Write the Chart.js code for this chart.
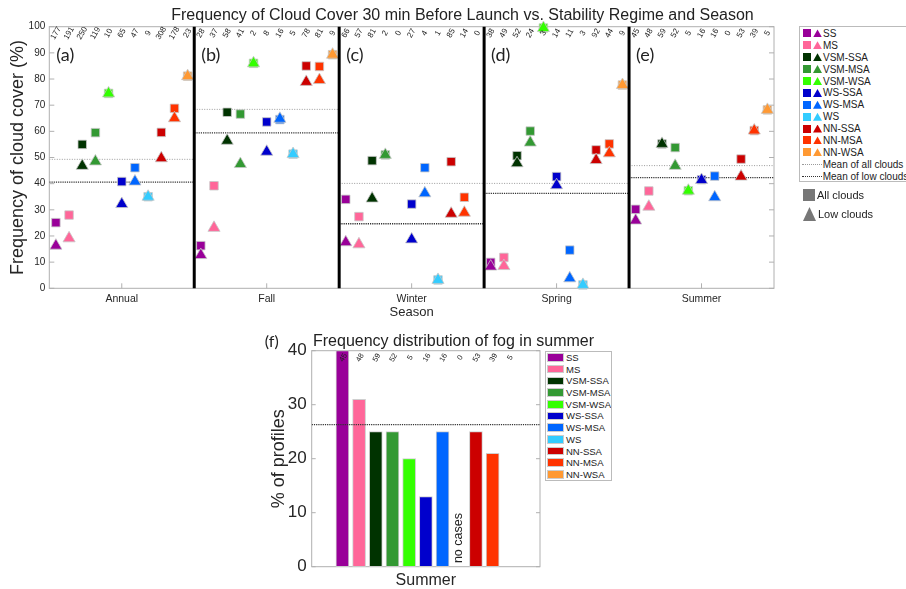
<!DOCTYPE html>
<html>
<head>
<meta charset="utf-8">
<script src="https://cdn.jsdelivr.net/npm/chart.js@4.4.0/dist/chart.umd.min.js"></script>
<style>
    html, body { margin: 0; padding: 0; background: #fff; overflow: hidden; width: 906px; height: 589px; }
    body { position: relative; font-family: 'Liberation Sans', Arial, Helvetica, sans-serif; color: #222; }
    #top-wrap { position: absolute; left: 0; top: 0; }
    #bottom-wrap { position: absolute; left: 240px; top: 330px; }
    .legend { position: absolute; background: #fff; border: 1px solid #bbb; box-sizing: border-box; overflow: hidden; }
    #legend-top { left: 799px; top: 26px; width: 120px; height: 156px; padding-top: 0.5px; }
    #legend-bottom { left: 545px; top: 350.7px; width: 67px; height: 130.3px; padding-top: 0px; }
    .lrow { display: flex; align-items: center; white-space: nowrap; }
    #legend-top .lrow { height: 11.9px; font-size: 10px; }
    #legend-bottom .lrow { height: 11.7px; font-size: 9.5px; }
    .sq { width: 8px; height: 8px; margin-left: 3px; }
    .tri { width: 9px; height: 8px; margin-left: 2px; clip-path: polygon(50% 0, 100% 100%, 0 100%); }
    .ltxt { margin-left: 1px; }
    .mline { width: 20px; height: 0; margin-left: 1.7px; }
    .bar-key { width: 15px; height: 6.5px; margin-left: 1px; border: 0.5px solid #ccc; }
    .marker-key { position: absolute; left: 803px; font-size: 11px; display: flex; align-items: center; }
    .marker-key span.shape { background: #777; margin-right: 2px; }
</style>
</head>
<body>
<div id="top-wrap"><canvas id="top-chart" width="925" height="330"></canvas></div>
<div id="bottom-wrap"><canvas id="bottom-chart" width="427" height="259"></canvas></div>
<div id="legend-top" class="legend"></div>
<div class="marker-key" style="top:189px;"><span class="shape" style="width:12px;height:12px;"></span>All clouds</div>
<div class="marker-key" style="top:207px;"><span class="shape" style="width:13px;height:14px;clip-path:polygon(50% 0,100% 100%,0 100%);"></span>Low clouds</div>
<div id="legend-bottom" class="legend"></div>

<script>
// Categories
const seasons = ['Annual', 'Fall', 'Winter', 'Spring', 'Summer'];
const regimes = ['SS', 'MS', 'VSM-SSA', 'VSM-MSA', 'VSM-WSA', 'WS-SSA', 'WS-MSA', 'WS', 'NN-SSA', 'NN-MSA', 'NN-WSA'];
const regimeColors = ['#990099', '#ff6699', '#003300', '#339933', '#33ff00', '#0000cc',
                      '#0066ff', '#33ccff', '#cc0000', '#ff3300', '#ff9933'];

// Frequency of all clouds (%), one row per regime, values per season
const allClouds = [
    [25.1, 16.3, 34.0,  9.9, 30.2],  // SS
    [28.0, 39.2, 27.4, 11.8, 37.2],  // MS
    [55.0, 67.3, 48.8, 50.7, 55.2],  // VSM-SSA
    [59.5, 66.6, 51.0, 60.1, 53.8],  // VSM-MSA
    [74.5, 86.0, null, 99.5, 37.3],  // VSM-WSA
    [40.8, 63.6, 32.2, 42.7, 41.5],  // WS-SSA
    [46.1, 64.5, 46.1, 14.6, 42.9],  // WS-MSA
    [35.0, 51.3,  3.2,  1.3, null],  // WS
    [59.6, 85.0, 48.4, 52.9, 49.4],  // NN-SSA
    [68.8, 84.8, 34.8, 55.2, 60.3],  // NN-MSA
    [81.1, 89.3, null, 77.7, 68.2]   // NN-WSA
];
// Frequency of low clouds (%)
const lowClouds = [
    [16.3, 12.7, 17.6,  8.3, 25.9],
    [19.1, 23.1, 16.8,  8.5, 31.2],
    [46.8, 56.4, 34.3, 47.8, 55.2],
    [48.5, 47.5, 51.0, 55.7, 46.8],
    [74.5, 86.0, null, 99.5, 37.3],
    [32.2, 52.2, 18.7, 39.4, 41.4],
    [40.8, 64.8, 36.3,  3.8, 34.8],
    [35.0, 51.3,  3.2,  1.3, null],
    [49.7, 78.9, 28.5, 49.0, 42.7],
    [65.0, 79.6, 28.9, 51.6, 60.3],
    [81.1, 89.3, null, 77.7, 68.2]
];
// Number of profiles, one row per season
const profileCounts = [
    [177, 191, 250, 119, 10, 65, 47, 9, 308, 178, 23],
    [28, 37, 58, 41, 2, 8, 16, 5, 78, 81, 9],
    [66, 57, 81, 2, 0, 27, 4, 1, 85, 14, 0],
    [38, 49, 52, 24, 3, 14, 11, 3, 92, 44, 9],
    [45, 48, 59, 52, 5, 16, 16, 0, 53, 39, 5]
];
const meanAllClouds = [49.3, 68.4, 40.1, 40.1, 46.9];
const meanLowClouds = [40.6, 59.4, 24.7, 36.3, 42.3];
const panelLetters = ['(a)', '(b)', '(c)', '(d)', '(e)'];

// Fog in summer
const fogPercent = [40, 31, 25, 25, 20, 13, 25, null, 25, 21, 0];
const fogCounts = [45, 48, 59, 52, 5, 16, 16, 0, 53, 39, 5];
const fogMean = 26.3;

const FONT = "'Liberation Sans', Arial, Helvetica, sans-serif";
Chart.defaults.font.family = FONT;
Chart.defaults.color = '#262626';

// x position of regime i inside season panel k
function slotX(k, i) {
    return k + 1 + (i - 5) / 11;
}

// Build top chart datasets
const topDatasets = [];
seasons.slice(1).forEach((s, k) => {
    topDatasets.push({
        data: [{x: k + 1.5, y: 0}, {x: k + 1.5, y: 100}],
        showLine: true, borderColor: '#000', borderWidth: 3, pointRadius: 0, order: 0, clip: false
    });
});
seasons.forEach((s, k) => {
    topDatasets.push({
        data: [{x: k + 0.5, y: meanAllClouds[k]}, {x: k + 1.5, y: meanAllClouds[k]}],
        showLine: true, borderColor: '#9a9a9a', borderWidth: 1, borderDash: [1, 1.5], pointRadius: 0, order: 3
    });
    topDatasets.push({
        data: [{x: k + 0.5, y: meanLowClouds[k]}, {x: k + 1.5, y: meanLowClouds[k]}],
        showLine: true, borderColor: '#333', borderWidth: 1.4, borderDash: [1.2, 1], pointRadius: 0, order: 3
    });
});
regimes.forEach((name, i) => {
    topDatasets.push({
        label: name + ' all',
        data: seasons.map((s, k) => ({x: slotX(k, i), y: allClouds[i][k]})).filter(p => p.y !== null),
        pointStyle: 'rect', pointRadius: 6, backgroundColor: regimeColors[i],
        borderColor: '#c8c8c8', borderWidth: 0.8, order: 2, clip: false
    });
    topDatasets.push({
        label: name + ' low',
        data: seasons.map((s, k) => ({x: slotX(k, i), y: lowClouds[i][k]})).filter(p => p.y !== null),
        pointStyle: 'triangle', pointRadius: 7, backgroundColor: regimeColors[i],
        borderColor: '#c8c8c8', borderWidth: 0.8, order: 1, clip: false
    });
});

// Box, inner ticks, counts and panel letters for the top chart
const topDecor = {
    id: 'topDecor',
    beforeDatasetsDraw(chart) {
        const {ctx, chartArea: a, scales: {x, y}} = chart;
        ctx.save();
        ctx.strokeStyle = '#b0b0b0';
        ctx.lineWidth = 1;
        ctx.strokeRect(a.left, a.top, a.right - a.left, a.bottom - a.top);
        ctx.beginPath();
        y.ticks.forEach(t => {
            const py = y.getPixelForValue(t.value);
            ctx.moveTo(a.left, py); ctx.lineTo(a.left + 5, py);
            ctx.moveTo(a.right, py); ctx.lineTo(a.right - 5, py);
        });
        x.ticks.forEach(t => {
            const px = x.getPixelForValue(t.value);
            ctx.moveTo(px, a.bottom); ctx.lineTo(px, a.bottom - 5);
        });
        ctx.stroke();
        ctx.restore();
    },
    afterDatasetsDraw(chart) {
        const {ctx, scales: {x, y}} = chart;
        ctx.save();
        ctx.fillStyle = '#222';
        ctx.font = '8px ' + FONT;
        ctx.textAlign = 'center';
        ctx.textBaseline = 'middle';
        profileCounts.forEach((row, k) => {
            row.forEach((n, i) => {
                ctx.save();
                ctx.translate(x.getPixelForValue(slotX(k, i)), y.getPixelForValue(97.5));
                ctx.rotate(-Math.PI / 3);
                ctx.fillText(String(n), 0, 0);
                ctx.restore();
            });
        });
        ctx.font = "18px Lato, " + FONT;
        ctx.textAlign = 'left';
        panelLetters.forEach((t, k) => {
            ctx.fillText(t, x.getPixelForValue(k + 0.5) + 7, y.getPixelForValue(89));
        });
        ctx.restore();
    }
};

new Chart(document.getElementById('top-chart'), {
    type: 'scatter',
    data: {datasets: topDatasets},
    options: {
        responsive: false,
        animation: false,
        events: [],
        layout: {padding: 0},
        plugins: {
            legend: {display: false},
            tooltip: {enabled: false},
            title: {
                display: true,
                text: 'Frequency of Cloud Cover 30 min Before Launch vs. Stability Regime and Season',
                font: {size: 16, weight: 'normal'},
                color: '#222',
                padding: {top: 5.5, bottom: 2}
            }
        },
        scales: {
            x: {
                type: 'linear', min: 0.5, max: 5.5,
                grid: {display: false, drawTicks: false},
                border: {display: false},
                afterBuildTicks: s => { s.ticks = seasons.map((n, k) => ({value: k + 1})); },
                ticks: {callback: (v, idx) => seasons[idx], font: {size: 10.5}, padding: 5, autoSkip: false, maxRotation: 0},
                title: {display: true, text: 'Season', font: {size: 13}, padding: {top: 0, bottom: 10}},
                afterFit: s => { s.height = 41.7; }
            },
            y: {
                min: 0, max: 100,
                grid: {display: false, drawTicks: false},
                border: {display: false},
                ticks: {stepSize: 10, font: {size: 10}, padding: 4},
                title: {display: true, text: 'Frequency of cloud cover (%)', font: {size: 18}, padding: {top: 7.5, bottom: 0}},
                afterFit: s => { s.width = 49.3; }
            },
            // empty right-hand axis: keeps room for the legend column
            yr: {
                type: 'linear', position: 'right', display: true,
                grid: {display: false, drawTicks: false},
                border: {display: false},
                ticks: {display: false},
                afterFit: s => { s.width = 151; }
            }
        }
    },
    plugins: [topDecor]
});

// Bottom chart: fog in summer
const fogXMin = -0.84, fogXMax = 12.84;
const bottomDecor = {
    id: 'bottomDecor',
    beforeDatasetsDraw(chart) {
        const {ctx, chartArea: a, scales: {y}} = chart;
        ctx.save();
        ctx.strokeStyle = '#b0b0b0';
        ctx.lineWidth = 1;
        ctx.strokeRect(a.left, a.top, a.right - a.left, a.bottom - a.top);
        ctx.beginPath();
        y.ticks.forEach(t => {
            const py = y.getPixelForValue(t.value);
            ctx.moveTo(a.left, py); ctx.lineTo(a.left + 4, py);
            ctx.moveTo(a.right, py); ctx.lineTo(a.right - 4, py);
        });
        ctx.stroke();
        ctx.restore();
    },
    afterDatasetsDraw(chart) {
        const {ctx, chartArea: a, scales: {x, y}} = chart;
        ctx.save();
        ctx.fillStyle = '#222';
        ctx.textAlign = 'center';
        ctx.textBaseline = 'middle';
        ctx.font = '7.5px ' + FONT;
        fogCounts.forEach((n, i) => {
            ctx.save();
            ctx.translate(x.getPixelForValue(i + 1) + 1, y.getPixelForValue(38.7));
            ctx.rotate(-Math.PI / 3);
            ctx.fillText(String(n), 0, 0);
            ctx.restore();
        });
        // regimes without cases
        ctx.font = '12.5px ' + FONT;
        fogPercent.forEach((v, i) => {
            if (v !== null) return;
            ctx.save();
            ctx.translate(x.getPixelForValue(i + 1) - 1, y.getPixelForValue(5.3));
            ctx.rotate(-Math.PI / 2);
            ctx.fillText('no cases', 0, 0);
            ctx.restore();
        });
        ctx.font = "16px Lato, " + FONT;
        ctx.textAlign = 'left';
        ctx.fillText('(f)', a.left - 47, 12);
        ctx.restore();
    }
};

new Chart(document.getElementById('bottom-chart'), {
    type: 'bar',
    data: {
        datasets: [
            {
                data: fogPercent.map((v, i) => ({x: i + 1, y: v})),
                backgroundColor: regimeColors,
                borderColor: '#cfcfcf',
                borderWidth: 1,
                borderSkipped: false,
                barThickness: 13,
                order: 1
            },
            {
                type: 'line',
                data: [{x: fogXMin, y: fogMean}, {x: fogXMax, y: fogMean}],
                borderColor: '#333', borderWidth: 1.3, borderDash: [1.2, 1], pointRadius: 0, order: 0
            }
        ]
    },
    options: {
        responsive: false,
        animation: false,
        events: [],
        layout: {padding: 0},
        plugins: {
            legend: {display: false},
            tooltip: {enabled: false},
            title: {
                display: true,
                text: 'Frequency distribution of fog in summer',
                font: {size: 16, weight: 'normal'},
                color: '#222',
                padding: {top: 1.5, bottom: 0}
            }
        },
        scales: {
            x: {
                type: 'linear', min: fogXMin, max: fogXMax, offset: false,
                grid: {display: false, drawTicks: false},
                border: {display: false},
                ticks: {display: false},
                title: {display: true, text: 'Summer', font: {size: 16, lineHeight: 1.1}, padding: {top: 0, bottom: 0}},
                afterFit: s => { s.height = 22.3; }
            },
            y: {
                min: 0, max: 40,
                grid: {display: false, drawTicks: false},
                border: {display: false},
                ticks: {stepSize: 10, font: {size: 17}, padding: 5},
                title: {display: true, text: '% of profiles', font: {size: 18}, padding: {top: 28.5, bottom: 0}},
                afterFit: s => { s.width = 71.7; }
            },
            // empty right-hand axis under the legend
            yr: {
                type: 'linear', position: 'right', display: true,
                grid: {display: false, drawTicks: false},
                border: {display: false},
                ticks: {display: false},
                afterFit: s => { s.width = 127; }
            }
        }
    },
    plugins: [bottomDecor]
});

// HTML legends built from the same arrays
const legendTop = document.getElementById('legend-top');
regimes.forEach((name, i) => {
    const row = document.createElement('div');
    row.className = 'lrow';
    row.innerHTML = '<span class="sq" style="background:' + regimeColors[i] + '"></span>' +
        '<span class="tri" style="background:' + regimeColors[i] + '"></span>' +
        '<span class="ltxt">' + name + '</span>';
    legendTop.appendChild(row);
});
[['Mean of all clouds', '1px dotted #9a9a9a'], ['Mean of low clouds', '1.5px dotted #333']].forEach(([label, border]) => {
    const row = document.createElement('div');
    row.className = 'lrow';
    row.innerHTML = '<span class="mline" style="border-top:' + border + '"></span><span class="ltxt">' + label + '</span>';
    legendTop.appendChild(row);
});

const legendBottom = document.getElementById('legend-bottom');
regimes.forEach((name, i) => {
    const row = document.createElement('div');
    row.className = 'lrow';
    row.innerHTML = '<span class="bar-key" style="background:' + regimeColors[i] + '"></span>' +
        '<span class="ltxt" style="margin-left:2px">' + name + '</span>';
    legendBottom.appendChild(row);
});
</script>
</body>
</html>
